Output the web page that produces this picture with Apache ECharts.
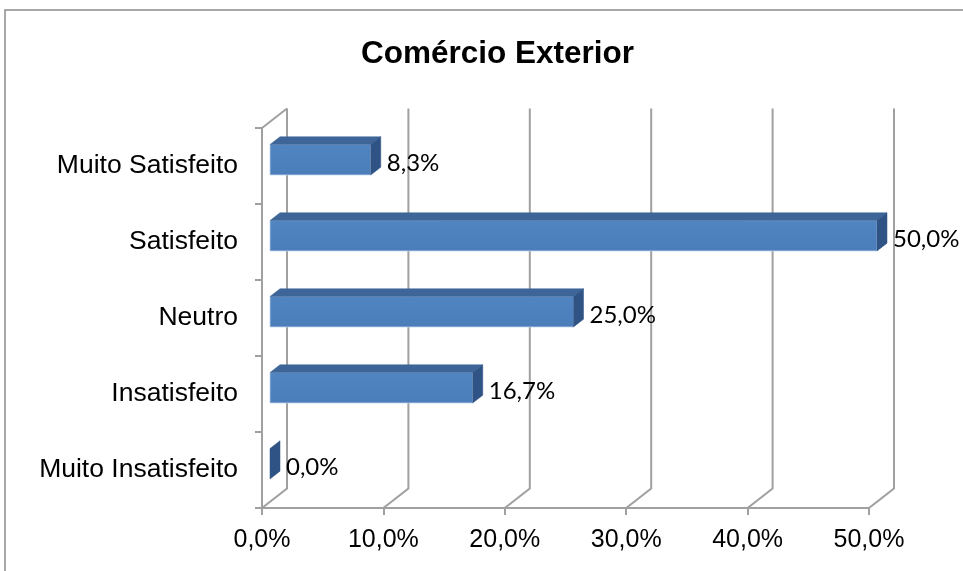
<!DOCTYPE html>
<html>
<head>
<meta charset="utf-8">
<script src="https://cdn.jsdelivr.net/npm/echarts@6/dist/echarts.min.js"></script>
<style>
html,body{margin:0;padding:0;background:#fff;}
#chart{width:963px;height:571px;}
</style>
</head>
<body>
<div id="chart"></div>
<script>
var titleText = 'Comércio Exterior';
var categories = ['Muito Satisfeito', 'Satisfeito', 'Neutro', 'Insatisfeito', 'Muito Insatisfeito'];
var values = [8.3, 50.0, 25.0, 16.7, 0.0];
var tickValues = [0, 10, 20, 30, 40, 50];

function fmt(v) { return v.toFixed(1).replace('.', ',') + '%'; }

// 3D projection style constants
var DEPTH_X = 25, DEPTH_Y = 19.5;
var BAR_D0 = 0.32, BAR_D1 = 0.72, BAR_H = 0.4;

var chart = echarts.init(document.getElementById('chart'), null, {renderer: 'canvas'});

var barData = values.map(function (v, i) { return [v, i]; });
var gridData = tickValues.map(function (v) { return [v, 0]; });

var option = {
  backgroundColor: '#ffffff',
  animation: false,
  title: {
    text: titleText,
    left: 356, top: 33,
    textStyle: {fontFamily: 'Liberation Sans, Arial', fontWeight: 'bold', fontSize: 31.5, color: '#000'}
  },
  graphic: [{
    type: 'rect', z: -10, silent: true,
    shape: {x: 5, y: 10, width: 1000, height: 600},
    style: {fill: 'none', stroke: '#8c8c8c', lineWidth: 1.5}
  }],
  grid: {left: 262, right: 94, top: 128, bottom: 63, containLabel: false},
  xAxis: {
    type: 'value', min: 0, max: 50, interval: 10,
    axisLine: {show: true, lineStyle: {color: '#a0a0a0', width: 2}},
    axisTick: {show: true, length: 7, lineStyle: {color: '#a0a0a0', width: 2}},
    splitLine: {show: false},
    axisLabel: {
      formatter: function (v) { return fmt(v); },
      fontFamily: 'Liberation Sans, Arial', fontSize: 25, color: '#000', margin: 20
    }
  },
  yAxis: {
    type: 'category', data: categories, inverse: true,
    axisLine: {show: true, lineStyle: {color: '#a0a0a0', width: 2}},
    axisTick: {show: true, length: 7, lineStyle: {color: '#a0a0a0', width: 2}},
    axisLabel: {fontFamily: 'Liberation Sans, Arial', fontSize: 26.5, color: '#000', margin: 24}
  },
  series: [
    {
      type: 'custom', name: 'grid3d', silent: true, z: 1,
      encode: {x: 0, y: 1},
      data: gridData,
      clip: false,
      renderItem: function (params, api) {
        var cs = params.coordSys;
        var x = api.coord([api.value(0), 0])[0];
        var bottom = cs.y + cs.height, top = cs.y;
        var style = {stroke: '#a0a0a0', lineWidth: 2, fill: null};
        var children = [{
          type: 'polyline',
          shape: {points: [[x, bottom], [x + DEPTH_X, bottom - DEPTH_Y], [x + DEPTH_X, top - DEPTH_Y]]},
          style: style
        }];
        if (params.dataIndex === 0) {
          children.push({
            type: 'line',
            shape: {x1: x, y1: top, x2: x + DEPTH_X, y2: top - DEPTH_Y},
            style: style
          });
        }
        return {type: 'group', children: children};
      }
    },
    {
      type: 'custom', name: 'Comércio Exterior', z: 5,
      encode: {x: 0, y: 1},
      data: barData,
      clip: false,
      renderItem: function (params, api) {
        var v = api.value(0);
        var ci = api.value(1);
        var p0 = api.coord([0, ci]);
        var p1 = api.coord([v, ci]);
        var band = api.size([0, 1])[1];
        var h = band * BAR_H;
        var ox = DEPTH_X * BAR_D0, oy = DEPTH_Y * BAR_D0;
        var dx = DEPTH_X * (BAR_D1 - BAR_D0), dy = DEPTH_Y * (BAR_D1 - BAR_D0);
        var x0 = p0[0] + ox, x1 = p1[0] + ox;
        var yc = p0[1] - oy;
        var yt = yc - h / 2, yb = yc + h / 2;
        var children = [];
        if (x1 > x0) {
          children.push({
            type: 'rect',
            shape: {x: x0, y: yt, width: x1 - x0, height: h},
            style: {
              fill: new echarts.graphic.LinearGradient(0, 0, 0, 1, [
                {offset: 0, color: '#5085c2'}, {offset: 1, color: '#4a7db9'}
              ]),
              stroke: 'rgba(190,210,235,0.8)', lineWidth: 1
            }
          });
          children.push({
            type: 'polygon',
            shape: {points: [[x0, yt], [x1, yt], [x1 + dx, yt - dy], [x0 + dx, yt - dy]]},
            style: {fill: '#3d6598', stroke: '#3d6598', lineWidth: 0.5}
          });
        }
        children.push({
          type: 'polygon',
          shape: {points: [[x1, yt], [x1 + dx, yt - dy], [x1 + dx, yb - dy], [x1, yb]]},
          style: {fill: '#2f5384', stroke: '#2f5384', lineWidth: 0.5}
        });
        children.push({
          type: 'text',
          style: {
            x: x1 + dx + 6, y: yc + 4,
            text: fmt(v),
            fontFamily: 'Lato', fontSize: 24, fill: '#000',
            align: 'left', verticalAlign: 'middle'
          }
        });
        return {type: 'group', children: children};
      }
    }
  ]
};
chart.setOption(option);
</script>
</body>
</html>
